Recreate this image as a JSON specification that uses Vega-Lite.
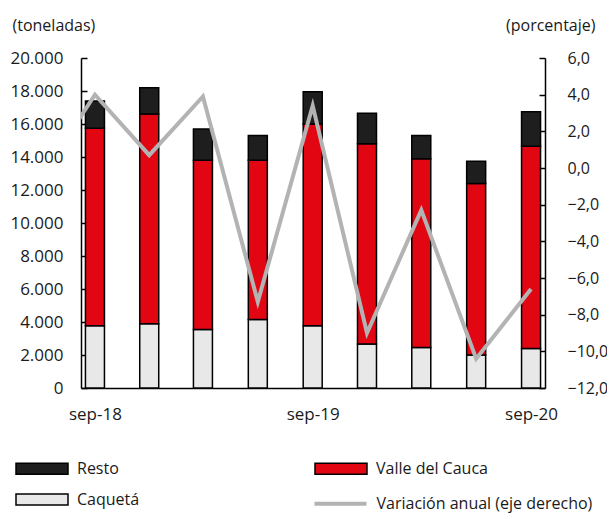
{
  "$schema": "https://vega.github.io/schema/vega-lite/v6.json",
  "width": 464,
  "height": 330,
  "autosize": {"type": "none"},
  "padding": {"left": 81, "top": 58, "right": 62, "bottom": 135},
  "background": "white",
  "config": {
    "font": "Open Sans",
    "view": {"stroke": null},
    "axis": {
      "grid": false,
      "labelFont": "Open Sans",
      "labelFontSize": 17,
      "labelColor": "#1a1a1a",
      "titleFont": "Open Sans",
      "titleFontSize": 16,
      "titleFontWeight": "normal",
      "titleColor": "#1a1a1a",
      "domainColor": "#000000",
      "domainWidth": 1.5,
      "tickColor": "#000000",
      "tickWidth": 1.5
    },
    "legend": {
      "labelFont": "Open Sans",
      "labelFontSize": 16,
      "labelColor": "#1a1a1a",
      "labelLimit": 400
    }
  },
  "datasets": {
    "barras": [
      {"fecha": "2018-09-01", "serie": "Caquetá", "valor": 3780},
      {"fecha": "2018-09-01", "serie": "Valle del Cauca", "valor": 11970},
      {"fecha": "2018-09-01", "serie": "Resto", "valor": 1650},
      {"fecha": "2018-12-01", "serie": "Caquetá", "valor": 3900},
      {"fecha": "2018-12-01", "serie": "Valle del Cauca", "valor": 12700},
      {"fecha": "2018-12-01", "serie": "Resto", "valor": 1600},
      {"fecha": "2019-03-01", "serie": "Caquetá", "valor": 3550},
      {"fecha": "2019-03-01", "serie": "Valle del Cauca", "valor": 10250},
      {"fecha": "2019-03-01", "serie": "Resto", "valor": 1900},
      {"fecha": "2019-06-01", "serie": "Caquetá", "valor": 4150},
      {"fecha": "2019-06-01", "serie": "Valle del Cauca", "valor": 9650},
      {"fecha": "2019-06-01", "serie": "Resto", "valor": 1500},
      {"fecha": "2019-09-01", "serie": "Caquetá", "valor": 3780},
      {"fecha": "2019-09-01", "serie": "Valle del Cauca", "valor": 12220},
      {"fecha": "2019-09-01", "serie": "Resto", "valor": 1950},
      {"fecha": "2019-12-01", "serie": "Caquetá", "valor": 2670},
      {"fecha": "2019-12-01", "serie": "Valle del Cauca", "valor": 12130},
      {"fecha": "2019-12-01", "serie": "Resto", "valor": 1850},
      {"fecha": "2020-03-01", "serie": "Caquetá", "valor": 2450},
      {"fecha": "2020-03-01", "serie": "Valle del Cauca", "valor": 11450},
      {"fecha": "2020-03-01", "serie": "Resto", "valor": 1400},
      {"fecha": "2020-06-01", "serie": "Caquetá", "valor": 2000},
      {"fecha": "2020-06-01", "serie": "Valle del Cauca", "valor": 10400},
      {"fecha": "2020-06-01", "serie": "Resto", "valor": 1350},
      {"fecha": "2020-09-01", "serie": "Caquetá", "valor": 2400},
      {"fecha": "2020-09-01", "serie": "Valle del Cauca", "valor": 12250},
      {"fecha": "2020-09-01", "serie": "Resto", "valor": 2100}
    ],
    "variacion": [
      {"fecha": "2018-06-01", "variacion": -0.6},
      {"fecha": "2018-09-01", "variacion": 4.0},
      {"fecha": "2018-12-01", "variacion": 0.7},
      {"fecha": "2019-03-01", "variacion": 3.9},
      {"fecha": "2019-06-01", "variacion": -7.3},
      {"fecha": "2019-09-01", "variacion": 3.4},
      {"fecha": "2019-12-01", "variacion": -9.0},
      {"fecha": "2020-03-01", "variacion": -2.3},
      {"fecha": "2020-06-01", "variacion": -10.4},
      {"fecha": "2020-09-01", "variacion": -6.6}
    ]
  },
  "layer": [
    {
      "data": {"name": "barras"},
      "transform": [
        {"calculate": "indexof(['Caquetá','Valle del Cauca','Resto'], datum.serie)", "as": "orden"}
      ],
      "mark": {"type": "bar", "width": 19, "stroke": "#000000", "strokeWidth": 1.5},
      "encoding": {
        "x": {
          "field": "fecha",
          "type": "temporal",
          "scale": {
            "type": "utc",
            "domain": [
              {"year": 2018, "month": 8, "date": 17, "utc": true},
              {"year": 2020, "month": 9, "date": 16, "utc": true}
            ]
          },
          "axis": {
            "title": null,
            "ticks": false,
            "values": [
              {"year": 2018, "month": 9, "date": 1, "utc": true},
              {"year": 2019, "month": 9, "date": 1, "utc": true},
              {"year": 2020, "month": 9, "date": 1, "utc": true}
            ],
            "labelExpr": "lower(utcFormat(datum.value, '%b-%y'))",
            "labelPadding": 18
          }
        },
        "y": {
          "field": "valor",
          "type": "quantitative",
          "stack": "zero",
          "scale": {"domain": [0, 20000], "nice": false},
          "axis": {
            "values": [0, 2000, 4000, 6000, 8000, 10000, 12000, 14000, 16000, 18000, 20000],
            "labelExpr": "replace(format(datum.value, ','), ',', '.')",
            "tickSize": -6,
            "labelPadding": 24,
            "title": "(toneladas)",
            "titleAngle": 0,
            "titleAlign": "left",
            "titleBaseline": "middle",
            "titleX": -69,
            "titleY": -33
          }
        },
        "color": {
          "field": "serie",
          "type": "nominal",
          "scale": {
            "domain": ["Resto", "Valle del Cauca", "Caquetá"],
            "range": ["#1e1e1e", "#e20613", "#e8e8e8"]
          },
          "legend": {
            "title": null,
            "orient": "none",
            "direction": "horizontal",
            "legendX": -53,
            "legendY": 396.5,
            "columns": 2,
            "columnPadding": 172,
            "rowPadding": 8,
            "symbolType": "M-2,-0.42H2V0.42H-2Z",
            "symbolSize": 676,
            "symbolStrokeColor": "#000000",
            "symbolStrokeWidth": 1.5,
            "symbolOpacity": 1,
            "labelOffset": 21
          }
        },
        "order": {"field": "orden", "type": "quantitative"}
      }
    },
    {
      "data": {"name": "variacion"},
      "mark": {"type": "line", "clip": true, "strokeWidth": 4, "strokeJoin": "miter"},
      "encoding": {
        "x": {"field": "fecha", "type": "temporal"},
        "y": {
          "field": "variacion",
          "type": "quantitative",
          "scale": {"domain": [-12, 6], "nice": false},
          "axis": {
            "orient": "right",
            "values": [-12, -10, -8, -6, -4, -2, 0, 2, 4, 6],
            "labelExpr": "replace(format(datum.value, '.1f'), '.', ',')",
            "labelFontSize": 16,
            "tickSize": -6,
            "labelPadding": 28,
            "title": "(porcentaje)",
            "titleAngle": 0,
            "titleAlign": "right",
            "titleBaseline": "middle",
            "titleX": 50,
            "titleY": -33
          }
        },
        "stroke": {
          "datum": "Variación anual (eje derecho)",
          "scale": {"range": ["#b3b3b3"]},
          "legend": {
            "title": null,
            "orient": "none",
            "legendX": 244.5,
            "legendY": 430.7,
            "symbolType": "M-2,0H2",
            "symbolSize": 676,
            "symbolStrokeWidth": 4,
            "labelOffset": 21
          }
        }
      }
    }
  ],
  "resolve": {"scale": {"y": "independent"}}
}
